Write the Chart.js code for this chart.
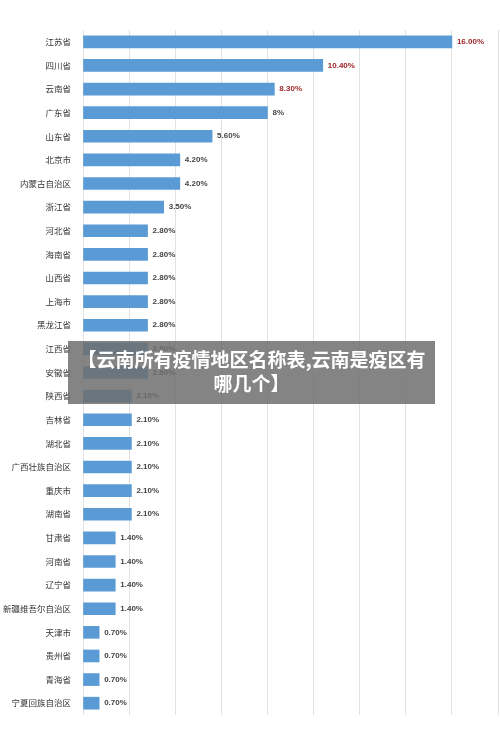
<!DOCTYPE html>
<html><head><meta charset="utf-8">
<script src="https://cdn.jsdelivr.net/npm/chart.js@4"></script>
<style>
body{margin:0;background:#fff;font-family:"Noto Sans CJK SC",sans-serif}
#wrap{position:relative;width:500px;height:745px}
#banner{position:absolute;left:68px;top:341px;width:367px;height:63px;background:rgba(110,110,110,0.85);color:#fff;font-weight:bold;font-size:19px;line-height:24px;text-align:center;padding-top:6px;box-sizing:border-box}
</style></head><body>
<div id="wrap"><canvas id="c" width="500" height="745"></canvas>
<div id="banner">【云南所有疫情地区名称表,云南是疫区有哪几个】</div></div>
<script>
const provinces=['江苏省','四川省','云南省','广东省','山东省','北京市','内蒙古自治区','浙江省','河北省','海南省','山西省','上海市','黑龙江省','江西省','安徽省','陕西省','吉林省','湖北省','广西壮族自治区','重庆市','湖南省','甘肃省','河南省','辽宁省','新疆维吾尔自治区','天津市','贵州省','青海省','宁夏回族自治区'];
const shares=[16,10.4,8.3,8,5.6,4.2,4.2,3.5,2.8,2.8,2.8,2.8,2.8,2.8,2.8,2.1,2.1,2.1,2.1,2.1,2.1,1.4,1.4,1.4,1.4,0.7,0.7,0.7,0.7];
const valueLabels=['16.00%','10.40%','8.30%','8%','5.60%','4.20%','4.20%','3.50%','2.80%','2.80%','2.80%','2.80%','2.80%','2.80%','2.80%','2.10%','2.10%','2.10%','2.10%','2.10%','2.10%','1.40%','1.40%','1.40%','1.40%','0.70%','0.70%','0.70%','0.70%'];

const labelPlugin={id:'vals',afterDatasetsDraw(ch){
 const ctx=ch.ctx;ctx.save();ctx.font='bold 8px "Liberation Sans",sans-serif';ctx.textBaseline='middle';
 ch.getDatasetMeta(0).data.forEach((b,i)=>{ctx.fillStyle=i<3?'#a0282a':'#444';ctx.fillText(valueLabels[i],b.x+5,b.y);});
 ctx.restore();}};

new Chart(document.getElementById('c'),{
 type:'bar',
 data:{labels:provinces,datasets:[{data:shares,backgroundColor:'#5b9bd5',barThickness:12}]},
 options:{indexAxis:'y',responsive:false,animation:false,
  layout:{padding:{top:30,bottom:30,right:2}},
  plugins:{legend:{display:false},tooltip:{enabled:false}},
  scales:{
   x:{min:0,max:18,ticks:{stepSize:2,display:false},grid:{color:'#e2e2e2',drawTicks:false},border:{display:false}},
   y:{grid:{display:false},border:{display:false},ticks:{color:'#333',font:{size:8.5,family:'"Noto Sans CJK SC"'},padding:4},
      afterFit(s){s.width=83;}}
  }}, plugins:[labelPlugin]});
</script></body></html>
